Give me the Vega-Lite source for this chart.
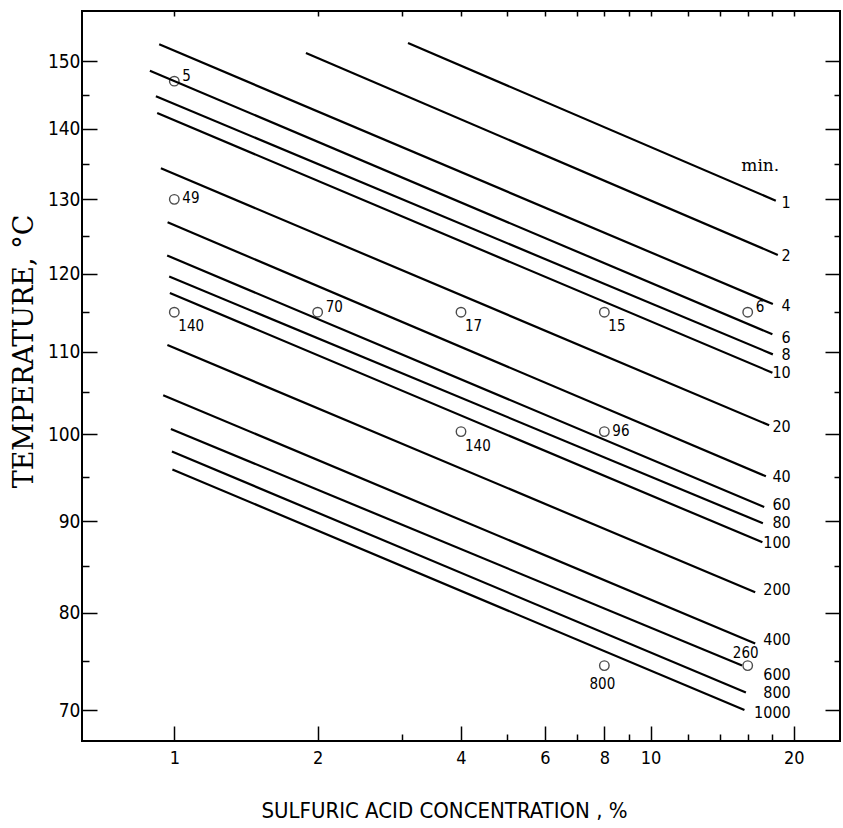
{
  "$schema": "https://vega.github.io/schema/vega-lite/v6.json",
  "width": 758,
  "height": 730,
  "autosize": {"type": "none"},
  "padding": {"left": 82, "top": 11, "right": 3, "bottom": 87},
  "background": "white",
  "config": {
    "view": {"stroke": "black", "strokeWidth": 2},
    "axis": {"domain": false, "grid": false, "tickColor": "black", "tickWidth": 1.5, "labelColor": "black", "titleColor": "black"}
  },
  "datasets": {
    "lines": [
      {"min": "1", "conc": 3.096, "tempK": 425.95}, {"min": "1", "conc": 18.33, "tempK": 402.97},
      {"min": "2", "conc": 1.890, "tempK": 424.41}, {"min": "2", "conc": 18.51, "tempK": 395.62},
      {"min": "4", "conc": 0.9295, "tempK": 425.75}, {"min": "4", "conc": 18.07, "tempK": 389.20},
      {"min": "6", "conc": 0.8887, "tempK": 421.73}, {"min": "6", "conc": 18.03, "tempK": 385.34},
      {"min": "8", "conc": 0.9148, "tempK": 417.90}, {"min": "8", "conc": 18.07, "tempK": 382.83},
      {"min": "10", "conc": 0.9206, "tempK": 415.43}, {"min": "10", "conc": 18.03, "tempK": 380.56},
      {"min": "20", "conc": 0.9373, "tempK": 407.48}, {"min": "20", "conc": 17.75, "tempK": 374.20},
      {"min": "40", "conc": 0.9681, "tempK": 400.00}, {"min": "40", "conc": 17.47, "tempK": 368.23},
      {"min": "60", "conc": 0.9662, "tempK": 395.54}, {"min": "60", "conc": 17.33, "tempK": 364.72},
      {"min": "80", "conc": 0.9756, "tempK": 392.77}, {"min": "80", "conc": 17.22, "tempK": 362.90},
      {"min": "100", "conc": 0.9789, "tempK": 390.63}, {"min": "100", "conc": 17.18, "tempK": 360.78},
      {"min": "200", "conc": 0.9672, "tempK": 384.00}, {"min": "200", "conc": 16.59, "tempK": 355.34},
      {"min": "400", "conc": 0.9477, "tempK": 377.81}, {"min": "400", "conc": 16.59, "tempK": 349.94},
      {"min": "600", "conc": 0.9837, "tempK": 373.76}, {"min": "600", "conc": 15.57, "tempK": 347.66},
      {"min": "800", "conc": 0.9885, "tempK": 371.11}, {"min": "800", "conc": 15.86, "tempK": 344.92},
      {"min": "1000", "conc": 0.9908, "tempK": 369.02}, {"min": "1000", "conc": 15.75, "tempK": 343.15}
    ],
    "labels": [
      {"min": "1", "conc": 19.7, "tempK": 402.64},
      {"min": "2", "conc": 19.7, "tempK": 395.48},
      {"min": "4", "conc": 19.7, "tempK": 388.95},
      {"min": "6", "conc": 19.7, "tempK": 384.88},
      {"min": "8", "conc": 19.7, "tempK": 382.74},
      {"min": "10", "conc": 19.7, "tempK": 380.52},
      {"min": "20", "conc": 19.7, "tempK": 374.00},
      {"min": "40", "conc": 19.7, "tempK": 368.14},
      {"min": "60", "conc": 19.7, "tempK": 364.95},
      {"min": "80", "conc": 19.7, "tempK": 362.93},
      {"min": "100", "conc": 19.7, "tempK": 360.70},
      {"min": "200", "conc": 19.7, "tempK": 355.58},
      {"min": "400", "conc": 19.7, "tempK": 350.29},
      {"min": "600", "conc": 19.7, "tempK": 346.68},
      {"min": "800", "conc": 19.7, "tempK": 344.85},
      {"min": "1000", "conc": 19.7, "tempK": 342.84}
    ],
    "unit": [
      {"text": "min.", "conc": 17.0, "tempK": 407.85}
    ],
    "points": [
      {"n": "5", "conc": 1, "tempK": 420.15},
      {"n": "49", "conc": 1, "tempK": 403.15},
      {"n": "140", "conc": 1, "tempK": 388.15},
      {"n": "70", "conc": 2, "tempK": 388.15},
      {"n": "17", "conc": 4, "tempK": 388.15},
      {"n": "15", "conc": 8, "tempK": 388.15},
      {"n": "6", "conc": 16, "tempK": 388.15},
      {"n": "140", "conc": 4, "tempK": 373.45},
      {"n": "96", "conc": 8, "tempK": 373.45},
      {"n": "800", "conc": 8, "tempK": 347.65},
      {"n": "260", "conc": 16, "tempK": 347.65}
    ]
  },
  "resolve": {"axis": {"x": "independent", "y": "independent"}},
  "layer": [
    {
      "data": {"name": "lines"},
      "mark": {"type": "line", "color": "black", "strokeWidth": 2.2},
      "encoding": {
        "x": {"field": "conc", "type": "quantitative",
          "scale": {"type": "log", "domain": [0.64, 25], "nice": false},
          "axis": {"orient": "bottom", "values": [1, 2, 4, 6, 8, 10, 20], "format": "~g", "tickSize": -15, "labelPadding": 23,
            "labelFont": "DejaVu Sans Condensed", "labelFontSize": 18,
            "title": "SULFURIC ACID CONCENTRATION , %", "titleFont": "DejaVu Sans Condensed", "titleFontSize": 22, "titleFontWeight": "normal",
            "titleX": 362, "titleY": 69, "titleBaseline": "middle", "titleAlign": "center"}},
        "y": {"field": "tempK", "type": "quantitative",
          "scale": {"type": "pow", "exponent": -1, "domain": [340.08, 430.94], "nice": false, "zero": false},
          "axis": {"orient": "left", "values": [343.15, 353.15, 363.15, 373.15, 383.15, 393.15, 403.15, 413.15, 423.15],
            "labelExpr": "round(datum.value - 273.15)", "tickSize": -15, "labelPadding": 17,
            "labelFont": "DejaVu Sans Condensed", "labelFontSize": 19,
            "title": "TEMPERATURE, °C", "titleFont": "DejaVu Serif", "titleFontSize": 27, "titleFontWeight": "normal",
            "titleX": -58, "titleY": 340, "titleAngle": -90, "titleBaseline": "middle", "titleAlign": "center"}},
        "detail": {"field": "min", "type": "nominal"},
        "order": {"field": "conc", "type": "quantitative"}
      }
    },
    {
      "data": {"name": "points"},
      "mark": {"type": "point", "shape": "circle", "filled": false, "stroke": "black", "strokeWidth": 1.4, "size": 90},
      "encoding": {
        "x": {"field": "conc", "type": "quantitative",
          "scale": {"type": "log", "domain": [0.64, 25], "nice": false},
          "axis": {"orient": "bottom", "values": [3, 5, 7, 9, 12, 14, 16, 18], "tickSize": -7, "labels": false, "title": null}},
        "y": {"field": "tempK", "type": "quantitative",
          "scale": {"type": "pow", "exponent": -1, "domain": [340.08, 430.94], "nice": false, "zero": false},
          "axis": {"orient": "left", "values": [348.15, 358.15, 368.15, 378.15, 388.15, 398.15, 408.15, 418.15], "tickSize": -7, "labels": false, "title": null}}
      }
    },
    {
      "data": {"name": "labels"},
      "mark": {"type": "text", "align": "right", "baseline": "middle", "font": "DejaVu Sans Condensed", "fontSize": 16, "color": "black"},
      "encoding": {
        "x": {"field": "conc", "type": "quantitative",
          "scale": {"type": "log", "domain": [0.64, 25], "nice": false},
          "axis": {"orient": "top", "values": [1, 2, 3, 4, 5, 6, 7, 8, 9, 10, 12, 14, 16, 18, 20], "tickSize": -5, "labels": false, "title": null}},
        "y": {"field": "tempK", "type": "quantitative",
          "scale": {"type": "pow", "exponent": -1, "domain": [340.08, 430.94], "nice": false, "zero": false},
          "axis": {"orient": "right", "values": [343.15, 353.15, 363.15, 373.15, 383.15, 393.15, 403.15, 413.15, 423.15], "tickSize": -15, "labels": false, "title": null}},
        "text": {"field": "min", "type": "nominal"}
      }
    },
    {
      "data": {"name": "unit"},
      "mark": {"type": "text", "align": "center", "baseline": "middle", "font": "DejaVu Serif", "fontSize": 17, "color": "black"},
      "encoding": {
        "x": {"field": "conc", "type": "quantitative", "scale": {"type": "log", "domain": [0.64, 25], "nice": false}, "axis": null},
        "y": {"field": "tempK", "type": "quantitative",
          "scale": {"type": "pow", "exponent": -1, "domain": [340.08, 430.94], "nice": false, "zero": false},
          "axis": {"orient": "right", "values": [348.15, 358.15, 368.15, 378.15, 388.15, 398.15, 408.15, 418.15], "tickSize": -6, "labels": false, "title": null}},
        "text": {"field": "text", "type": "nominal"}
      }
    },
    {
      "data": {"name": "points"},
      "transform": [{"filter": "datum.n == '5' || datum.n == '70' || datum.n == '6'"}],
      "mark": {"type": "text", "align": "left", "baseline": "middle", "dx": 8, "dy": -5, "font": "DejaVu Sans Condensed", "fontSize": 15, "color": "black"},
      "encoding": {
        "x": {"field": "conc", "type": "quantitative", "scale": {"type": "log", "domain": [0.64, 25], "nice": false}, "axis": null},
        "y": {"field": "tempK", "type": "quantitative", "scale": {"type": "pow", "exponent": -1, "domain": [340.08, 430.94], "nice": false, "zero": false}, "axis": null},
        "text": {"field": "n", "type": "nominal"}
      }
    },
    {
      "data": {"name": "points"},
      "transform": [{"filter": "datum.n == '49' || datum.n == '96'"}],
      "mark": {"type": "text", "align": "left", "baseline": "middle", "dx": 8, "dy": -1, "font": "DejaVu Sans Condensed", "fontSize": 15, "color": "black"},
      "encoding": {
        "x": {"field": "conc", "type": "quantitative", "scale": {"type": "log", "domain": [0.64, 25], "nice": false}, "axis": null},
        "y": {"field": "tempK", "type": "quantitative", "scale": {"type": "pow", "exponent": -1, "domain": [340.08, 430.94], "nice": false, "zero": false}, "axis": null},
        "text": {"field": "n", "type": "nominal"}
      }
    },
    {
      "data": {"name": "points"},
      "transform": [{"filter": "datum.n == '140' || datum.n == '17' || datum.n == '15'"}],
      "mark": {"type": "text", "align": "left", "baseline": "middle", "dx": 4, "dy": 14, "font": "DejaVu Sans Condensed", "fontSize": 15, "color": "black"},
      "encoding": {
        "x": {"field": "conc", "type": "quantitative", "scale": {"type": "log", "domain": [0.64, 25], "nice": false}, "axis": null},
        "y": {"field": "tempK", "type": "quantitative", "scale": {"type": "pow", "exponent": -1, "domain": [340.08, 430.94], "nice": false, "zero": false}, "axis": null},
        "text": {"field": "n", "type": "nominal"}
      }
    },
    {
      "data": {"name": "points"},
      "transform": [{"filter": "datum.n == '260'"}],
      "mark": {"type": "text", "align": "center", "baseline": "middle", "dx": -2, "dy": -13, "font": "DejaVu Sans Condensed", "fontSize": 15, "color": "black"},
      "encoding": {
        "x": {"field": "conc", "type": "quantitative", "scale": {"type": "log", "domain": [0.64, 25], "nice": false}, "axis": null},
        "y": {"field": "tempK", "type": "quantitative", "scale": {"type": "pow", "exponent": -1, "domain": [340.08, 430.94], "nice": false, "zero": false}, "axis": null},
        "text": {"field": "n", "type": "nominal"}
      }
    },
    {
      "data": {"name": "points"},
      "transform": [{"filter": "datum.n == '800'"}],
      "mark": {"type": "text", "align": "center", "baseline": "middle", "dx": -2, "dy": 18, "font": "DejaVu Sans Condensed", "fontSize": 15, "color": "black"},
      "encoding": {
        "x": {"field": "conc", "type": "quantitative", "scale": {"type": "log", "domain": [0.64, 25], "nice": false}, "axis": null},
        "y": {"field": "tempK", "type": "quantitative", "scale": {"type": "pow", "exponent": -1, "domain": [340.08, 430.94], "nice": false, "zero": false}, "axis": null},
        "text": {"field": "n", "type": "nominal"}
      }
    }
  ]
}
